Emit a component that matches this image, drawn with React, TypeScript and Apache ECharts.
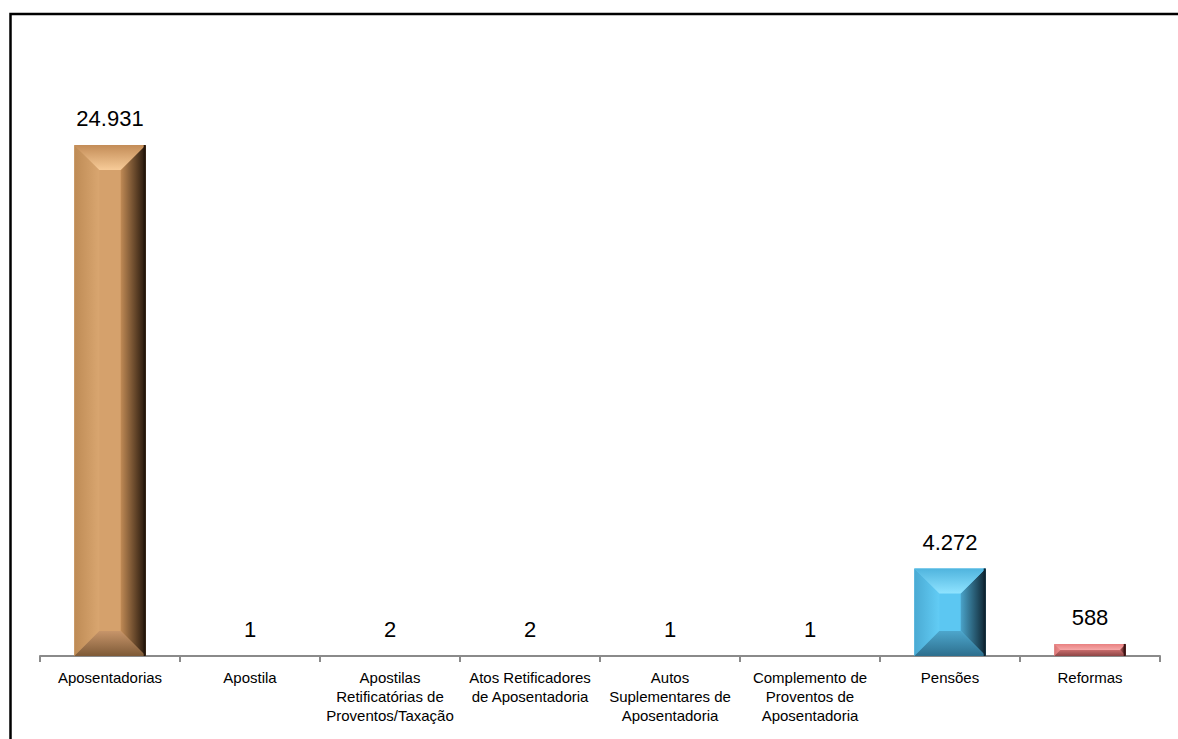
import React, { useEffect, useRef } from "react";
import * as echarts from "echarts";

const categories: string[] = [
  "Aposentadorias",
  "Apostila",
  "Apostilas\nRetificatórias de\nProventos/Taxação",
  "Atos Retificadores\nde Aposentadoria",
  "Autos\nSuplementares de\nAposentadoria",
  "Complemento de\nProventos de\nAposentadoria",
  "Pensões",
  "Reformas",
];
const values: number[] = [24931, 1, 2, 2, 1, 1, 4272, 588];
// palette index per bar: 0 tan, 1 blue, 2 pink
const paletteIndex: number[] = [0, 0, 0, 0, 0, 0, 1, 2];

const palettes = [
  {
    face: "#D5A16C",
    topOuter: "#C38C57",
    topInner: "#F7CB98",
    leftOuter: "#BE8B55",
    leftInner: "#D9A670",
    rightInner: "#C08A55",
    rightOuter: "#24160B",
    bottomInner: "#C7956A",
    bottomOuter: "#7E5A37",
  },
  {
    face: "#5CC7F2",
    topOuter: "#4FB4DE",
    topInner: "#8FE3FF",
    leftOuter: "#4AAAD3",
    leftInner: "#62CCF5",
    rightInner: "#4AA3C9",
    rightOuter: "#0E2431",
    bottomInner: "#4DA6CC",
    bottomOuter: "#2D6F8E",
  },
  {
    face: "#EF8B8B",
    topOuter: "#E88080",
    topInner: "#F6A8A8",
    leftOuter: "#D87575",
    leftInner: "#F08E8E",
    rightInner: "#B86060",
    rightOuter: "#3A1212",
    bottomInner: "#C86C6C",
    bottomOuter: "#8E4646",
  },
];

const fmt = (v: number) => String(v).replace(/\B(?=(\d{3})+(?!\d))/g, ".");

const lg = (x2: number, y2: number, a: string, b: string) =>
  new echarts.graphic.LinearGradient(0, 0, x2, y2, [
    { offset: 0, color: a },
    { offset: 1, color: b },
  ]);

export default function App() {
  const ref = useRef<HTMLDivElement>(null);
  useEffect(() => {
    if (!ref.current) return;
    const chart = echarts.init(ref.current, undefined, { renderer: "svg" });
    const customData = values.map((v, i) => [i, v, paletteIndex[i]]);
    chart.setOption({
      animation: false,
      backgroundColor: "#ffffff",
      graphic: [
        {
          type: "rect",
          shape: { x: 10.5, y: 14, width: 1220, height: 800 },
          style: { fill: "none", stroke: "#000", lineWidth: 2.5 },
          z: 100,
          silent: true,
        },
      ],
      grid: { left: 40, right: 18, top: 41, bottom: 83 },
      xAxis: {
        type: "category",
        data: categories,
        axisLine: { show: true, lineStyle: { color: "#8a8a8a", width: 2 } },
        axisTick: { show: true, length: 6, lineStyle: { color: "#8a8a8a", width: 2 } },
        axisLabel: {
          interval: 0,
          color: "#000",
          fontFamily: "Liberation Sans, Arial, sans-serif",
          fontSize: 15,
          lineHeight: 19,
          margin: 12,
        },
      },
      yAxis: {
        type: "value",
        min: 0,
        max: 30000,
        show: false,
        splitLine: { show: false },
      },
      series: [
        {
          type: "bar",
          data: values,
          barWidth: "51%",
          itemStyle: { color: "rgba(0,0,0,0)" },
          label: {
            show: true,
            position: "top",
            distance: 15,
            color: "#000",
            fontFamily: "Liberation Sans, Arial, sans-serif",
            fontSize: 22,
            formatter: (p: any) => fmt(p.value),
          },
          z: 3,
        },
        {
          type: "custom",
          data: customData,
          z: 2,
          renderItem: (params: any, api: any) => {
            const idx = api.value(0);
            const val = api.value(1);
            const pal = palettes[api.value(2)];
            const top = api.coord([idx, val]);
            const base = api.coord([idx, 0]);
            const band = api.size([1, 0])[0];
            const w = band * 0.51;
            const x0 = top[0] - w / 2;
            const x1 = top[0] + w / 2;
            const y0 = top[1];
            const y1 = base[1];
            const h = y1 - y0;
            if (h < 1) return { type: "group", children: [] };
            const b = Math.min(25, h / 2, w / 2);
            return {
              type: "group",
              children: [
                {
                  type: "rect",
                  shape: { x: x0, y: y0, width: w, height: h },
                  style: { fill: pal.face },
                },
                {
                  type: "polygon",
                  shape: { points: [[x0, y0], [x0 + b, y0 + b], [x0 + b, y1 - b], [x0, y1]] },
                  style: { fill: lg(1, 0, pal.leftOuter, pal.leftInner) },
                },
                {
                  type: "polygon",
                  shape: { points: [[x1, y0], [x1, y1], [x1 - b, y1 - b], [x1 - b, y0 + b]] },
                  style: { fill: lg(1, 0, pal.rightInner, pal.rightOuter) },
                },
                {
                  type: "polygon",
                  shape: { points: [[x0, y0], [x1, y0], [x1 - b, y0 + b], [x0 + b, y0 + b]] },
                  style: { fill: lg(0, 1, pal.topOuter, pal.topInner) },
                },
                {
                  type: "polygon",
                  shape: { points: [[x0 + b, y1 - b], [x1 - b, y1 - b], [x1, y1], [x0, y1]] },
                  style: { fill: lg(0, 1, pal.bottomInner, pal.bottomOuter) },
                },
                {
                  type: "rect",
                  shape: { x: x1 - 2, y: y0, width: 2, height: h },
                  style: { fill: pal.rightOuter },
                },
              ],
            };
          },
        },
      ],
    });
    return () => chart.dispose();
  }, []);
  return (
    <div
      ref={ref}
      style={{ position: "absolute", left: 0, top: 0, width: 1178, height: 739 }}
    />
  );
}
